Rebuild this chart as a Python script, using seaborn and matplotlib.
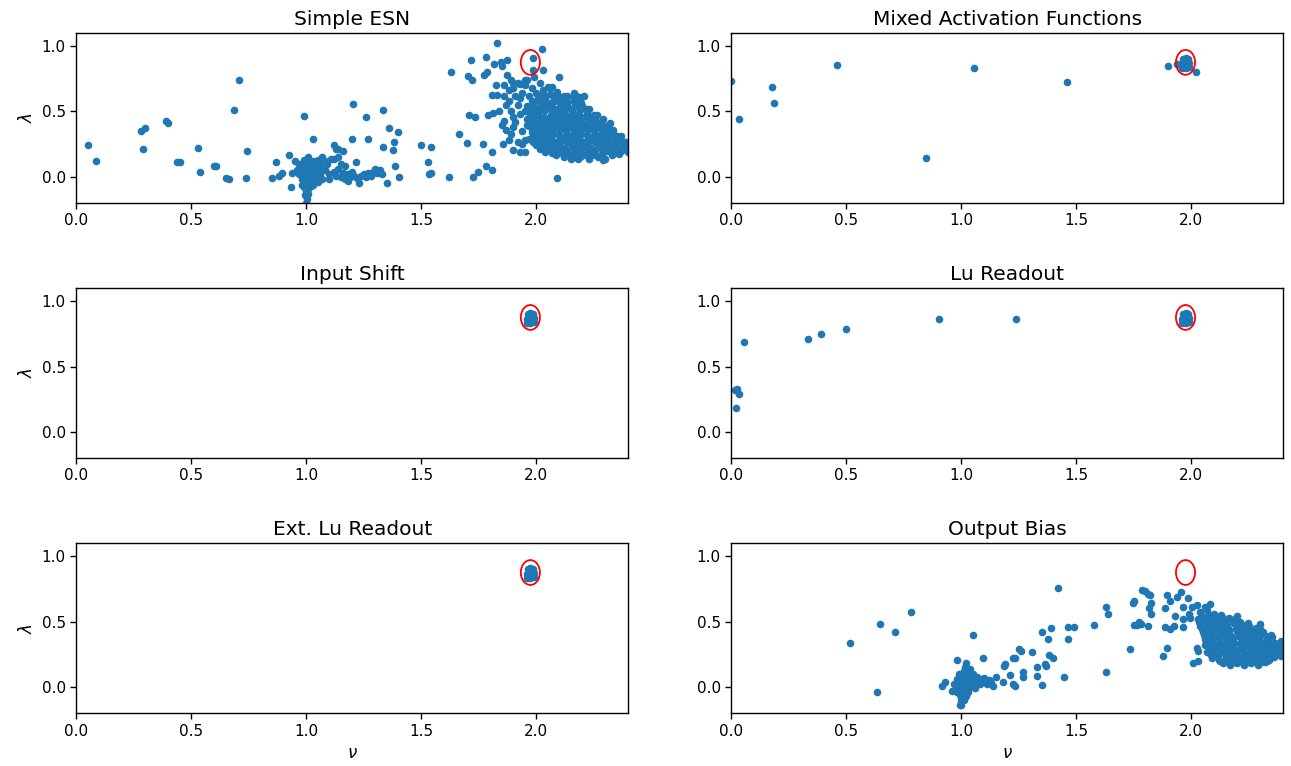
import matplotlib
matplotlib.use("Agg")
import matplotlib.pyplot as plt
from matplotlib.patches import Ellipse
import seaborn as sns
import pandas as pd

# ---------------- data ----------------
titles = ["Simple ESN", "Mixed Activation Functions", "Input Shift",
          "Lu Readout", "Ext. Lu Readout", "Output Bias"]

xticks = [0.0, 0.5, 1.0, 1.5, 2.0]
yticks = [0.0, 0.5, 1.0]

# red reference ring (centre nu, lambda)
ring_nu = 1.975
ring_lam = 0.875

# blob of converged networks near the reference point
blob_points = [(1.965, 0.84), (1.975, 0.83), (1.985, 0.85), (1.97, 0.87),
               (1.98, 0.88), (1.99, 0.87), (1.965, 0.90), (1.975, 0.91),
               (1.985, 0.90), (1.96, 0.86), (1.99, 0.84), (1.98, 0.86),
               (1.96, 0.83), (1.97, 0.85)]

esn_points = [
    # sparse left region
    (0.05, 0.24), (0.085, 0.12), (0.28, 0.35), (0.30, 0.37), (0.29, 0.21),
    (0.39, 0.43), (0.40, 0.41), (0.44, 0.11), (0.45, 0.11), (0.53, 0.22),
    (0.54, 0.04), (0.60, 0.085), (0.61, 0.085), (0.65, -0.01), (0.665, -0.02),
    (0.685, 0.51), (0.71, 0.74), (0.745, 0.20), (0.74, -0.01), (0.85, -0.01),
    (0.87, 0.11), (0.88, 0.01), (0.895, 0.03), (0.925, 0.17), (0.935, -0.08),
    (0.99, 0.465), (1.03, 0.29), (1.12, 0.24), (1.14, 0.21), (1.205, 0.555),
    (1.20, 0.29), (1.215, 0.11), (1.26, 0.455), (1.335, 0.51), (1.27, 0.29),
    (1.36, 0.37), (1.40, 0.34), (1.38, 0.27), (1.333, 0.225), (1.377, 0.205),
    (1.385, 0.085), (1.405, 0.0), (1.35, -0.05),
    # cluster near nu = 1
    (0.96, 0.05), (0.97, 0.02), (0.97, 0.10), (0.98, -0.02), (0.98, 0.06),
    (0.99, 0.13), (0.99, 0.00), (1.00, 0.04), (1.00, 0.09), (1.00, -0.05),
    (1.01, 0.15), (1.01, 0.01), (1.02, 0.07), (1.02, -0.03), (1.03, 0.12),
    (1.03, 0.03), (1.04, 0.08), (1.04, -0.01), (1.05, 0.05), (1.05, 0.13),
    (1.06, 0.02), (1.06, 0.09), (1.07, 0.15), (1.07, -0.02), (1.08, 0.05),
    (1.09, 0.10), (1.10, 0.02), (1.11, 0.14), (0.99, -0.08), (1.00, -0.11),
    (1.01, -0.09), (0.995, -0.14), (1.005, -0.17), (1.00, -0.20), (1.01, -0.13),
    (0.98, -0.06), (1.02, -0.07), (1.10, -0.02), (1.12, 0.04), (1.13, 0.01),
    (1.14, 0.06), (1.15, 0.00), (1.16, 0.03), (1.17, -0.02), (1.18, 0.02),
    (1.19, 0.00), (1.20, 0.04), (1.21, 0.01), (1.22, -0.01), (1.23, -0.05),
    (1.24, 0.01), (1.25, 0.02), (1.26, 0.00), (1.27, 0.03), (1.28, 0.01),
    (1.29, 0.04), (1.30, 0.06), (1.31, 0.03), (1.32, 0.05), (1.33, 0.02),
    (1.15, 0.10), (1.14, 0.15), (1.12, 0.14), (1.17, 0.08), (1.13, 0.21),
    (1.16, 0.20), (0.95, 0.12), (0.94, 0.03), (1.08, 0.12), (1.18, -0.03),
    (1.05, -0.04), (1.03, -0.06), (0.985, 0.03), (1.015, 0.05), (1.025, 0.10),
    (1.035, 0.0), (0.975, 0.08), (1.045, 0.11), (1.055, 0.0), (0.995, 0.07),
    (1.015, -0.01), (1.005, 0.12), (1.065, 0.06), (0.99, -0.03),
    # middle scattered
    (1.50, 0.245), (1.545, 0.225), (1.528, 0.11), (1.534, 0.02), (1.542, 0.033),
    (1.623, 0.0), (1.63, 0.80), (1.665, 0.33), (1.70, 0.255), (1.71, 0.474),
    (1.735, 0.454), (1.715, 0.89), (1.703, 0.77), (1.72, 0.738), (1.727, 0.0),
    (1.746, 0.038), (1.768, 0.254), (1.781, 0.085), (1.807, 0.056), (1.807, 0.187),
    (1.78, 0.915), (1.773, 0.78), (1.786, 0.80), (1.83, 1.02), (1.817, 0.86),
    (1.849, 0.88), (1.85, 0.85), (1.875, 0.89), (1.872, 0.78), (1.826, 0.70),
    (1.792, 0.47), (1.813, 0.49), (1.807, 0.623), (1.83, 0.628), (1.855, 0.25),
    (1.90, 0.205), (1.93, 0.19), (1.953, 0.187), (1.985, 0.91), (2.025, 0.975),
    (2.03, 0.815), (1.985, 0.82), (2.10, 0.765), (2.09, -0.01), (2.07, 0.687),
    (2.016, 0.72), (1.952, 0.74), (1.90, 0.72), (1.93, 0.71), (2.17, 0.628),
    (2.19, 0.61), (2.35, 0.315), (2.39, 0.265), (2.29, 0.13), (2.18, 0.135),
    (1.86, 0.70), (1.88, 0.66), (1.89, 0.74), (1.90, 0.68), (1.92, 0.72),
    (1.94, 0.64), (1.95, 0.70), (1.96, 0.74), (1.98, 0.68), (1.99, 0.76),
    (1.88, 0.58), (1.87, 0.55), (1.89, 0.50), (1.90, 0.46), (1.91, 0.42),
    (1.92, 0.55), (1.93, 0.60), (1.90, 0.38), (1.89, 0.33), (1.88, 0.28),
    (1.86, 0.43), (1.84, 0.50), (1.85, 0.40), (1.87, 0.36), (1.93, 0.48),
    (1.94, 0.35), (1.92, 0.27), (1.95, 0.28), (1.96, 0.40), (1.97, 0.62),
    (1.91, 0.62), (1.86, 0.62), (1.94, 0.25),
    # dense cluster
    (2.00, 0.64), (2.03, 0.66), (2.06, 0.63), (2.09, 0.65), (2.12, 0.62),
    (2.05, 0.69), (2.08, 0.60),
    (2.015, 0.62), (2.045, 0.615), (2.075, 0.625), (2.105, 0.61), (2.135, 0.62),
    (2.165, 0.64),
    (1.98, 0.58), (2.01, 0.60), (2.04, 0.59), (2.07, 0.57), (2.10, 0.60),
    (2.13, 0.58), (2.16, 0.61), (2.19, 0.59), (2.21, 0.62),
    (1.985, 0.565), (2.015, 0.57), (2.045, 0.56), (2.075, 0.575), (2.105, 0.565),
    (2.135, 0.57), (2.165, 0.58), (2.195, 0.565),
    (1.96, 0.54), (1.99, 0.53), (2.02, 0.55), (2.05, 0.54), (2.08, 0.52),
    (2.11, 0.55), (2.14, 0.53), (2.17, 0.56), (2.20, 0.54), (2.23, 0.52),
    (1.975, 0.515), (2.005, 0.52), (2.035, 0.51), (2.065, 0.525), (2.095, 0.515),
    (2.125, 0.52), (2.155, 0.51), (2.185, 0.525), (2.215, 0.515),
    (1.95, 0.50), (1.98, 0.48), (2.01, 0.49), (2.04, 0.51), (2.07, 0.48),
    (2.10, 0.50), (2.13, 0.47), (2.16, 0.49), (2.19, 0.51), (2.22, 0.48),
    (2.25, 0.47),
    (1.975, 0.465), (2.005, 0.47), (2.035, 0.46), (2.065, 0.475), (2.095, 0.465),
    (2.125, 0.47), (2.155, 0.46), (2.185, 0.475), (2.215, 0.465), (2.245, 0.46),
    (2.265, 0.47),
    (1.96, 0.44), (1.99, 0.43), (2.02, 0.45), (2.05, 0.44), (2.08, 0.42),
    (2.11, 0.45), (2.14, 0.43), (2.17, 0.44), (2.20, 0.42), (2.23, 0.45),
    (2.26, 0.43), (2.29, 0.44),
    (1.985, 0.415), (2.015, 0.42), (2.045, 0.41), (2.075, 0.425), (2.105, 0.415),
    (2.135, 0.42), (2.165, 0.41), (2.195, 0.425), (2.225, 0.415), (2.255, 0.42),
    (2.285, 0.41),
    (1.97, 0.39), (2.00, 0.38), (2.03, 0.40), (2.06, 0.39), (2.09, 0.37),
    (2.12, 0.40), (2.15, 0.38), (2.18, 0.39), (2.21, 0.37), (2.24, 0.40),
    (2.27, 0.38), (2.30, 0.39), (2.32, 0.41),
    (1.985, 0.365), (2.015, 0.37), (2.045, 0.36), (2.075, 0.375), (2.105, 0.365),
    (2.135, 0.37), (2.165, 0.36), (2.195, 0.375), (2.225, 0.365), (2.255, 0.37),
    (2.285, 0.36), (2.315, 0.37), (2.335, 0.355),
    (1.98, 0.34), (2.01, 0.33), (2.04, 0.35), (2.07, 0.34), (2.10, 0.32),
    (2.13, 0.35), (2.16, 0.33), (2.19, 0.34), (2.22, 0.32), (2.25, 0.35),
    (2.28, 0.33), (2.31, 0.34), (2.34, 0.32),
    (1.985, 0.315), (2.015, 0.32), (2.045, 0.31), (2.075, 0.325), (2.105, 0.315),
    (2.135, 0.32), (2.165, 0.31), (2.195, 0.325), (2.225, 0.315), (2.255, 0.32),
    (2.285, 0.31), (2.315, 0.32), (2.345, 0.305), (2.37, 0.31),
    (1.97, 0.29), (2.00, 0.28), (2.03, 0.30), (2.06, 0.29), (2.09, 0.27),
    (2.12, 0.30), (2.15, 0.28), (2.18, 0.29), (2.21, 0.27), (2.24, 0.30),
    (2.27, 0.28), (2.30, 0.29), (2.33, 0.27), (2.36, 0.29), (2.39, 0.27),
    (1.985, 0.265), (2.015, 0.27), (2.045, 0.26), (2.075, 0.275), (2.105, 0.265),
    (2.135, 0.27), (2.165, 0.26), (2.195, 0.275), (2.225, 0.265), (2.255, 0.27),
    (2.285, 0.26), (2.315, 0.27), (2.345, 0.255), (2.375, 0.265), (2.40, 0.26),
    (2.00, 0.24), (2.03, 0.23), (2.06, 0.25), (2.09, 0.24), (2.12, 0.22),
    (2.15, 0.25), (2.18, 0.23), (2.21, 0.24), (2.24, 0.22), (2.27, 0.25),
    (2.30, 0.23), (2.33, 0.24), (2.36, 0.22), (2.39, 0.24), (2.41, 0.22),
    (2.015, 0.215), (2.045, 0.21), (2.075, 0.22), (2.105, 0.215), (2.135, 0.205),
    (2.165, 0.215), (2.195, 0.21), (2.225, 0.22), (2.255, 0.205), (2.285, 0.215),
    (2.315, 0.21), (2.345, 0.22), (2.375, 0.21), (2.40, 0.225),
    (2.04, 0.19), (2.07, 0.18), (2.10, 0.20), (2.13, 0.19), (2.16, 0.17),
    (2.19, 0.20), (2.22, 0.18), (2.25, 0.19), (2.28, 0.17), (2.31, 0.20),
    (2.34, 0.18), (2.37, 0.20), (2.40, 0.19),
    (2.085, 0.17), (2.115, 0.175), (2.145, 0.165), (2.175, 0.17), (2.205, 0.165),
    (2.245, 0.17), (2.285, 0.165), (2.33, 0.17), (2.36, 0.175),
    (2.12, 0.15), (2.15, 0.14), (2.19, 0.15), (2.23, 0.14), (2.27, 0.15),
    (2.30, 0.14),
]

mixed_points = [(0.0, 0.73), (0.035, 0.44), (0.175, 0.685), (0.185, 0.565),
                (0.46, 0.855), (0.845, 0.145), (1.055, 0.83), (1.46, 0.725),
                (1.90, 0.845), (1.94, 0.86), (2.02, 0.80)] + blob_points

lu_points = [(0.02, 0.18), (0.018, 0.32), (0.025, 0.33), (0.035, 0.29),
             (0.055, 0.69), (0.335, 0.71), (0.39, 0.745), (0.50, 0.785),
             (0.905, 0.86), (1.24, 0.86)] + blob_points

bias_points = [
    (0.515, 0.335), (0.645, 0.48), (0.635, -0.035), (0.71, 0.42), (0.78, 0.575),
    (1.05, 0.40), (0.98, 0.21), (1.02, 0.18), (1.095, 0.22), (0.916, 0.005),
    (0.93, 0.04), (1.0, -0.135), (1.184, 0.16), (1.19, 0.175), (1.152, 0.08),
    (1.18, 0.035), (1.225, 0.22),
    # cluster near nu = 1
    (0.97, 0.02), (0.98, -0.04), (0.98, 0.06), (0.99, 0.01), (0.99, 0.10),
    (1.00, -0.02), (1.00, 0.05), (1.00, -0.08), (1.01, 0.12), (1.01, 0.02),
    (1.01, -0.05), (1.02, 0.08), (1.02, -0.01), (1.03, 0.04), (1.03, 0.11),
    (1.04, 0.00), (1.04, 0.07), (1.05, 0.03), (1.05, 0.10), (1.06, 0.05),
    (1.06, -0.01), (1.07, 0.08), (1.08, 0.02), (1.08, 0.06), (1.09, 0.04),
    (1.10, 0.07), (1.11, 0.02), (1.12, 0.05), (1.13, 0.03), (1.14, 0.01),
    (1.00, -0.11), (1.01, -0.10), (0.995, -0.14), (1.02, -0.07), (0.96, -0.03),
    (1.03, -0.04), (1.015, 0.15), (1.04, 0.14), (0.985, 0.03), (1.015, 0.06),
    (1.025, 0.02), (0.995, -0.06), (1.035, 0.08), (1.005, 0.09), (1.045, 0.04),
    (0.975, -0.01),
    # rising band
    (1.42, 0.755), (1.629, 0.615), (1.64, 0.56), (1.575, 0.475), (1.462, 0.46),
    (1.489, 0.46), (1.462, 0.365), (1.388, 0.45), (1.351, 0.42), (1.377, 0.365),
    (1.307, 0.268), (1.38, 0.243), (1.397, 0.225), (1.249, 0.288), (1.26, 0.275),
    (1.232, 0.22), (1.126, 0.045), (1.213, 0.095), (1.225, 0.02), (1.235, 0.01),
    (1.268, 0.115), (1.268, 0.08), (1.329, 0.152), (1.329, 0.082), (1.362, 0.178),
    (1.368, 0.16), (1.351, 0.013), (1.448, 0.08), (1.629, 0.115), (1.732, 0.288),
    (1.746, 0.644), (1.753, 0.66), (1.786, 0.744), (1.80, 0.73), (1.81, 0.71),
    (1.82, 0.70), (1.826, 0.645), (1.816, 0.60), (1.826, 0.555), (1.749, 0.476),
    (1.764, 0.476), (1.774, 0.50), (1.783, 0.485), (1.812, 0.47), (1.894, 0.70),
    (1.906, 0.66), (1.938, 0.685), (1.955, 0.725), (1.887, 0.60), (1.928, 0.545),
    (1.887, 0.46), (1.906, 0.44), (1.923, 0.465), (1.894, 0.295), (1.879, 0.24),
    (1.984, 0.68), (1.966, 0.615), (1.966, 0.52), (1.963, 0.455), (1.988, 0.56),
    (1.995, 0.53), (2.003, 0.61), (2.025, 0.625), (2.08, 0.635), (2.20, 0.545),
    (2.025, 0.30), (2.03, 0.275), (2.006, 0.18), (2.03, 0.20), (2.297, 0.48),
    # dense cluster
    (2.04, 0.57), (2.07, 0.59), (2.10, 0.56), (2.13, 0.55), (2.06, 0.61),
    (2.045, 0.545), (2.075, 0.55), (2.105, 0.54), (2.135, 0.535), (2.165, 0.53),
    (2.195, 0.525),
    (2.03, 0.52), (2.06, 0.53), (2.09, 0.51), (2.12, 0.52), (2.15, 0.50),
    (2.18, 0.51), (2.21, 0.50),
    (2.035, 0.495), (2.065, 0.50), (2.095, 0.49), (2.125, 0.495), (2.155, 0.485),
    (2.185, 0.49), (2.215, 0.485), (2.245, 0.49),
    (2.04, 0.47), (2.07, 0.46), (2.10, 0.48), (2.13, 0.47), (2.16, 0.45),
    (2.19, 0.48), (2.22, 0.46), (2.25, 0.47), (2.28, 0.45),
    (2.045, 0.445), (2.075, 0.45), (2.105, 0.44), (2.135, 0.445), (2.165, 0.435),
    (2.195, 0.44), (2.225, 0.445), (2.255, 0.44), (2.285, 0.43), (2.30, 0.445),
    (2.05, 0.42), (2.08, 0.41), (2.11, 0.43), (2.14, 0.42), (2.17, 0.40),
    (2.20, 0.43), (2.23, 0.41), (2.26, 0.42), (2.29, 0.40), (2.31, 0.42),
    (2.055, 0.395), (2.085, 0.40), (2.115, 0.39), (2.145, 0.395), (2.175, 0.385),
    (2.205, 0.39), (2.235, 0.395), (2.265, 0.39), (2.295, 0.38), (2.325, 0.39),
    (2.345, 0.40),
    (2.06, 0.37), (2.09, 0.36), (2.12, 0.38), (2.15, 0.37), (2.18, 0.35),
    (2.21, 0.38), (2.24, 0.36), (2.27, 0.37), (2.30, 0.35), (2.33, 0.37),
    (2.35, 0.38),
    (2.065, 0.345), (2.095, 0.35), (2.125, 0.34), (2.155, 0.345), (2.185, 0.335),
    (2.215, 0.34), (2.245, 0.345), (2.275, 0.34), (2.305, 0.335), (2.335, 0.345),
    (2.365, 0.34), (2.39, 0.35),
    (2.06, 0.32), (2.09, 0.31), (2.12, 0.33), (2.15, 0.32), (2.18, 0.30),
    (2.21, 0.33), (2.24, 0.31), (2.27, 0.32), (2.30, 0.30), (2.33, 0.32),
    (2.36, 0.31), (2.39, 0.33),
    (2.075, 0.295), (2.105, 0.30), (2.135, 0.29), (2.165, 0.295), (2.195, 0.285),
    (2.225, 0.29), (2.255, 0.295), (2.285, 0.29), (2.315, 0.285), (2.345, 0.295),
    (2.375, 0.29), (2.40, 0.30),
    (2.07, 0.27), (2.10, 0.26), (2.13, 0.28), (2.16, 0.27), (2.19, 0.25),
    (2.22, 0.28), (2.25, 0.26), (2.28, 0.27), (2.31, 0.25), (2.34, 0.27),
    (2.37, 0.26), (2.40, 0.28),
    (2.085, 0.245), (2.115, 0.24), (2.145, 0.25), (2.175, 0.245), (2.205, 0.235),
    (2.235, 0.245), (2.265, 0.24), (2.295, 0.245), (2.325, 0.235), (2.355, 0.245),
    (2.385, 0.25),
    (2.09, 0.22), (2.12, 0.21), (2.15, 0.23), (2.18, 0.22), (2.21, 0.20),
    (2.24, 0.23), (2.27, 0.21), (2.30, 0.22), (2.33, 0.20), (2.36, 0.23),
    (2.39, 0.24),
    (2.125, 0.195), (2.155, 0.20), (2.185, 0.19), (2.215, 0.195), (2.245, 0.19),
    (2.275, 0.195), (2.305, 0.19), (2.34, 0.21),
    (2.14, 0.18), (2.17, 0.17), (2.20, 0.18), (2.23, 0.17), (2.26, 0.18),
    (2.29, 0.17), (2.32, 0.19),
]

panel_points = [esn_points, mixed_points, blob_points,
                lu_points, blob_points, bias_points]

# ---------------- plotting ----------------
sns.set_theme(style="ticks")
plt.rcParams["font.family"] = ["DejaVu Sans"]
plt.rcParams.update({"text.color": "black", "axes.labelcolor": "black",
                     "xtick.color": "black", "ytick.color": "black",
                     "axes.edgecolor": "black"})

fig, axes = plt.subplots(3, 2, figsize=(12.91, 7.66), dpi=100)
fig.subplots_adjust(left=0.059, right=0.994, top=0.957, bottom=0.069,
                    wspace=0.187, hspace=0.50)

for i, ax in enumerate(axes.flat):
    nu, lam = zip(*panel_points[i])
    df = pd.DataFrame({"nu": nu, "lam": lam})
    sns.scatterplot(data=df, x="nu", y="lam", ax=ax, color="#1f77b4",
                    s=30, linewidth=0, alpha=1.0, legend=False)
    ax.add_patch(Ellipse((ring_nu, ring_lam), 0.083, 0.19, fill=False,
                         edgecolor="red", linewidth=1.3, zorder=5))
    ax.set_xlim(0, 2.4)
    ax.set_ylim(-0.2, 1.1)
    ax.set_xticks(xticks)
    ax.set_yticks(yticks)
    ax.set_title(titles[i], fontsize=14.5, color="black")
    ax.tick_params(labelsize=11, direction="out", length=4, width=1,
                   colors="black")
    for sp in ax.spines.values():
        sp.set_visible(True)
        sp.set_linewidth(1.0)
        sp.set_color("black")
    ax.set_xlabel("")
    ax.set_ylabel("")
    if i % 2 == 0:
        ax.set_ylabel(r"$\lambda$", fontsize=12)
    if i >= 4:
        ax.set_xlabel(r"$\nu$", fontsize=12)

fig.savefig("out.png", dpi=100)
